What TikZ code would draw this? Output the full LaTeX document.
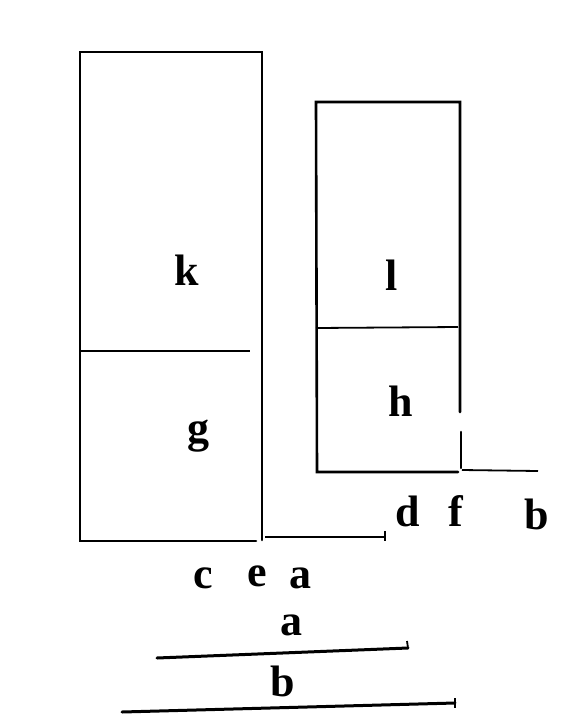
\documentclass[tikz,border=0pt]{standalone}
\usepackage{fontspec}
\setmainfont{Liberation Serif}
\usepackage{tikz}

\tikzset{
  edge/.style={line width=2.6pt, line cap=round},
  thin edge/.style={line width=1.8pt},
  letter/.style={inner sep=0pt, font=\fontsize{44}{44}\selectfont\bfseries}
}

\begin{document}
\begin{tikzpicture}[x=1pt, y=-1pt]
  \useasboundingbox (0,0) rectangle (570,724);

  % Left figure (k over g)
  \draw[edge] (262,540) -- (262,52) -- (80,52) -- (80,541) -- (256,541);
  \draw[thin edge] (80,351) -- (250,351);
  \draw[thin edge] (265,537) -- (385,537);
  \draw[thin edge] (385,531) -- (385,541);
  \node[letter] (k) at (187,270) {k};
  \node[letter] (g) at (198,436) {g};

  % Right figure (l over h)
  \draw[edge] (460,412) -- (460,102) -- (316,102) -- (317,472) -- (458,472);
  \draw[edge] (461,432) -- (461,468);
  \draw[thin edge] (316,328) -- (458,327);
  \draw[thin edge] (462,470) -- (538,471);
  \node[letter] (l) at (392,275) {l};
  \node[letter] (h) at (401,401) {h};

  % Letters under the figures
  \node[letter] (d) at (408,511) {d};
  \node[letter] (f) at (456,511) {f};
  \node[letter] (b) at (537,514) {b};
  \node[letter] (c) at (203,578) {c};
  \node[letter] (e) at (257,576) {e};
  \node[letter] (a) at (300,578) {a};

  % Given lines
  \node[letter] (a2) at (291,625) {a};
  \draw[edge, line width=3pt] (157,658) -- (408,648);
  \draw[thin edge] (408,648) -- (407,641);
  \node[letter] (b2) at (283,681) {b};
  \draw[edge, line width=3pt] (122,712) -- (455,703);
  \draw[thin edge] (455,698) -- (455,708);
\end{tikzpicture}
\end{document}
